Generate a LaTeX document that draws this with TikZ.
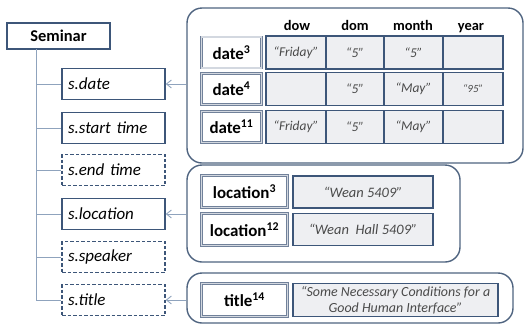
\documentclass[tikz,border=0pt]{standalone}
\usepackage{fontspec}
\setmainfont{Carlito}
\usetikzlibrary{arrows.meta}
\definecolor{dk}{HTML}{3D5679}
\definecolor{grp}{HTML}{4F6480}
\definecolor{conn}{HTML}{8FA3BD}
\definecolor{cellfill}{HTML}{EEEFF2}
\definecolor{lbdraw}{HTML}{71819A}
\definecolor{lbdouble}{HTML}{D3D8E0}
\definecolor{valtext}{HTML}{4A4A4A}
\tikzset{
  rootbox/.style={draw=dk, line width=1.4bp, fill=white, minimum width=103bp, minimum height=26bp, inner sep=0pt, font=\fontsize{16.5}{18}\selectfont\bfseries},
  slotbox/.style={draw=dk, line width=1.4bp, fill=white, minimum width=103bp, minimum height=31bp, inner sep=0pt, text width=91bp, align=left, font=\fontsize{17}{19}\selectfont\itshape},
  optbox/.style={slotbox, dashed, dash pattern=on 3.5bp off 2bp},
  grpbox/.style={draw=grp, line width=1.4bp, rounded corners=15bp, inner sep=0pt},
  lblbox/.style={draw=lbdraw, line width=0.7bp, double=lbdouble, double distance=1.3bp, fill=white, inner sep=0pt, minimum height=31bp, font=\fontsize{17}{19}\selectfont\bfseries},
  valcell/.style={draw=dk, line width=1.4bp, fill=cellfill, inner sep=0pt, minimum height=33bp, text=valtext, font=\fontsize{13.5}{15}\selectfont\itshape},
  hdr/.style={inner sep=0pt, anchor=base, font=\fontsize{14.5}{16}\selectfont\bfseries},
  trunk/.style={draw=conn, line width=0.9bp},
  link/.style={draw=conn, line width=0.9bp, -{Straight Barb[length=5bp,width=8bp]}},
}
\begin{document}
\begin{tikzpicture}[x=1bp,y=-1bp]
\useasboundingbox (0,0) rectangle (525,325);
% group boxes
\node[grpbox, minimum width=336bp, minimum height=155bp] (dategrp) at (355,85.5) {};
\node[grpbox, minimum width=273bp, minimum height=97bp] (locgrp) at (323.5,213.5) {};
\node[grpbox, minimum width=326bp, minimum height=50bp] (titlegrp) at (350,298) {};

% left tree
\node[rootbox] (sem) at (58.5,36) {Seminar};
\node[slotbox] (sdate) at (113.5,84) {s.date};
\node[slotbox] (sstart) at (113.5,128) {s.start time};
\node[optbox] (send) at (113.5,170) {s.end time};
\node[slotbox] (sloc) at (113.5,214) {s.location};
\node[optbox] (sspk) at (113.5,257) {s.speaker};
\node[optbox] (stitle) at (113.5,300) {s.title};
\coordinate (tr) at (36,49);
\draw[trunk] (tr) |- (stitle.west);
\foreach \n in {sdate,sstart,send,sloc,sspk}{
  \draw[trunk] (tr |- \n.west) -- (\n.west);
}

% date headers
\node[hdr] (hdow) at (297,30) {dow};
\node[hdr] (hdom) at (355,30) {dom};
\node[hdr] (hmon) at (413,30) {month};
\node[hdr] (hyear) at (471,30) {year};

% date rows
\node[lblbox, minimum width=60bp] (d3) at (231.5,52.5) {date\textsuperscript{3}};
\node[lblbox, minimum width=60bp] (d4) at (231.5,89) {date\textsuperscript{4}};
\node[lblbox, minimum width=60bp] (d11) at (231.5,127) {date\textsuperscript{11}};

\node[valcell, minimum width=60bp] (c11) at (296,52.5) {“Friday”};
\node[valcell, minimum width=58bp] (c12) at (355,52.5) {“5”};
\node[valcell, minimum width=59bp] (c13) at (413.5,52.5) {“5”};
\node[valcell, minimum width=60bp] (c14) at (473,52.5) {};

\node[valcell, minimum width=60bp] (c21) at (296,89) {};
\node[valcell, minimum width=58bp] (c22) at (355,89) {“5”};
\node[valcell, minimum width=59bp] (c23) at (413.5,89) {“May”};
\node[valcell, minimum width=60bp, font=\fontsize{11}{13}\selectfont\itshape] (c24) at (473,89) {“95”};

\node[valcell, minimum width=60bp] (c31) at (296,127) {“Friday”};
\node[valcell, minimum width=58bp] (c32) at (355,127) {“5”};
\node[valcell, minimum width=59bp] (c33) at (413.5,127) {“May”};
\node[valcell, minimum width=60bp] (c34) at (473,127) {};

% location
\node[lblbox, minimum width=86bp, minimum height=32bp] (l3) at (244.5,191.5) {location\textsuperscript{3}};
\node[lblbox, minimum width=86bp, minimum height=32bp] (l12) at (244.5,229.5) {location\textsuperscript{12}};
\node[valcell, minimum width=140bp, minimum height=32bp, font=\fontsize{14.5}{16}\selectfont\itshape] (lv3) at (363,192) {“Wean 5409”};
\node[valcell, minimum width=140bp, minimum height=32bp, font=\fontsize{14.5}{16}\selectfont\itshape] (lv12) at (363,229.5) {“Wean\ \ Hall 5409”};

% title
\node[lblbox, minimum width=86bp, minimum height=33bp] (t14) at (244.5,300) {title\textsuperscript{14}};
\node[valcell, minimum width=205bp, minimum height=33bp, align=center, font=\fontsize{14}{16}\selectfont\itshape] (tv) at (395.5,300) {“Some Necessary Conditions for a\\Good Human Interface”};

% links
\draw[link] (dategrp.west |- sdate.east) -- (sdate.east);
\draw[link] (locgrp.west |- sloc.east) -- (sloc.east);
\draw[link] (titlegrp.west |- stitle.east) -- (stitle.east);
\end{tikzpicture}
\end{document}
